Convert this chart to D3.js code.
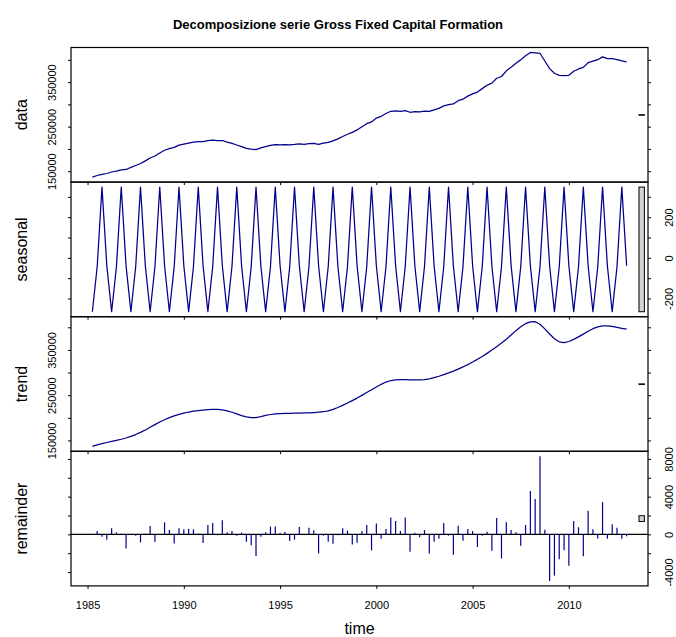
<!DOCTYPE html>
<html>
<head>
<meta charset="utf-8">
<script src="https://cdn.jsdelivr.net/npm/d3@7"></script>
<style>
  body { margin: 0; background: #ffffff; }
  svg text { font-family: "Liberation Sans", Arial, Helvetica, sans-serif; fill: #000; }
</style>
</head>
<body>
<svg id="chart" width="676" height="637"></svg>
<script>
// Quarterly series, first observation 1985 Q2, last 2013 Q1
const startYear = 1985.25;
const frequency = 4;

const data = [
  136685, 140316, 142898, 144791, 148175, 150366, 152998, 153871,
  158505, 162816, 167298, 173221, 179625, 184136, 190978, 197041,
  200595, 203396, 208588, 210891, 213105, 215086, 216448, 216241,
  218825, 219766, 218748, 218851, 215245, 212611, 208808, 205141,
  201055, 199286, 198538, 202311, 205245, 208076, 209668, 209301,
  209585, 209146, 209978, 211141, 210405, 211666, 212378, 210241,
  212995, 214676, 218058, 222561, 227775, 232946, 237278, 242671,
  249690, 256746, 260648, 269201, 273275, 279526, 284528, 285381,
  284490, 285936, 282298, 283741, 283215, 285016, 284528, 287781,
  291075, 296566, 299408, 300991, 308255, 311686, 318518, 323516,
  327585, 335416, 343028, 347821, 358675, 362596, 375428, 383421,
  392545, 399946, 409338, 416561, 415895, 414836, 397448, 380221,
  369955, 365316, 364848, 365241, 374355, 379616, 383028, 393661,
  397185, 400306, 406768, 402901, 402895, 400666, 397688, 395561
];

const seasonal = [
  -265, -44, 348, -39, -265, -44, 348, -39, -265, -44, 348, -39, -265, -44, 348, -39,
  -265, -44, 348, -39, -265, -44, 348, -39, -265, -44, 348, -39, -265, -44, 348, -39,
  -265, -44, 348, -39, -265, -44, 348, -39, -265, -44, 348, -39, -265, -44, 348, -39,
  -265, -44, 348, -39, -265, -44, 348, -39, -265, -44, 348, -39, -265, -44, 348, -39,
  -265, -44, 348, -39, -265, -44, 348, -39, -265, -44, 348, -39, -265, -44, 348, -39,
  -265, -44, 348, -39, -265, -44, 348, -39, -265, -44, 348, -39, -265, -44, 348, -39,
  -265, -44, 348, -39, -265, -44, 348, -39, -265, -44, 348, -39, -265, -44, 348, -39
];

const trend = [
  137000, 140000, 142800, 145400, 147800, 150200, 152600, 155400,
  158800, 163000, 167800, 173200, 179000, 185000, 190600, 195800,
  200400, 204400, 207600, 210400, 212800, 214600, 216000, 217200,
  218100, 218600, 218500, 217400, 215300, 212300, 208600, 205000,
  202100, 200500, 200500, 202600, 205300, 207300, 208500, 209200,
  209600, 209900, 210200, 210400, 210700, 211000, 211600, 212300,
  213400, 215500, 218700, 222700, 227400, 232600, 238000, 243600,
  249600, 255800, 262000, 268100, 274000, 279000, 282400, 284000,
  284400, 284200, 283800, 283600, 283800, 284600, 286200, 288600,
  291800, 295400, 299200, 303200, 307600, 312400, 317600, 323200,
  329200, 335600, 342400, 349600, 357200, 365200, 373800, 383000,
  392600, 401200, 408000, 412000, 412400, 406600, 396600, 385200,
  374600, 368000, 366200, 368600, 373200, 378900, 385000, 391200,
  396900, 400800, 403000, 403400, 402100, 400000, 397800, 395800
];

const remainder = [
   -50,   360,  -250,  -570,   640,   210,    50, -1490,
   -30,  -140,  -850,    60,   890,  -820,    30,  1280,
   460,  -960,   640,   530,   570,   530,   100,  -920,
   990,  1210,  -100,  1490,   210,   355,  -140,   180,
  -780, -1170, -2310,  -250,   210,   820,   820,   140,
   250,  -710,  -570,   780,   -30,   710,   430, -2020,
  -140,  -780,  -990,  -100,   640,   390, -1070,  -890,
   355,   990, -1700,  1140,  -460,   570,  1780,  1420,
   355,  1780, -1850,   180,  -320,   460, -2020,  -780,
  -460,  1210,  -140, -2170,   920,  -670,   570,   355,
 -1350,  -140,   280, -1740,  1740, -2560,  1280,   460,
   210, -1210,   990,  4600,  3760,  8280,   500, -4940,
 -4380, -2640, -1700, -3320,  1420,   760, -2320,  2500,
   550,  -450,  3420,  -460,  1060,   710,  -460,  -200
];

const chartTitle = "Decomposizione serie Gross Fixed Capital Formation";
const panelLabels = ["data", "seasonal", "trend", "remainder"];
const timeLabel = "time";
const yearTicks = [1985, 1990, 1995, 2000, 2005, 2010];

const levelTicks = [150000, 200000, 250000, 300000, 350000, 400000];
const levelTickLabels = [150000, 250000, 350000];
const seasonalTicks = [-200, -100, 0, 100, 200, 300];
const seasonalTickLabels = [-200, 0, 200];
const remainderTicks = [-4000, -2000, 0, 2000, 4000, 6000, 8000];
const remainderTickLabels = [-4000, 0, 4000, 8000];

// ---- layout ----
const plotLeft = 71, plotRight = 648, plotTop = 47.5, panelH = 134.6;
const lineColor = "#00008B";
const rangeFill = "#d3d3d3";
const tickLen = 3;

const svg = d3.select("#chart");
const n = data.length;
const time = d3.range(n).map(i => startYear + i / frequency);

// 4% expansion of a range, as in a standard time-series plot
const padRange = ([lo, hi]) => { const d = (hi - lo) * 0.04; return [lo - d, hi + d]; };

const x = d3.scaleLinear().domain(padRange([time[0], time[n - 1]])).range([plotLeft, plotRight]);

const panels = [
  { label: panelLabels[0], values: data,      ticks: levelTicks,     labels: levelTickLabels,     labelSide: "left",  kind: "line" },
  { label: panelLabels[1], values: seasonal,  ticks: seasonalTicks,  labels: seasonalTickLabels,  labelSide: "right", kind: "line" },
  { label: panelLabels[2], values: trend,     ticks: levelTicks,     labels: levelTickLabels,     labelSide: "left",  kind: "line" },
  { label: panelLabels[3], values: remainder, ticks: remainderTicks, labels: remainderTickLabels, labelSide: "right", kind: "bars" }
];

// height of the grey range bars: the smallest range among the components
const smallestRange = d3.min(panels, p => d3.max(p.values) - d3.min(p.values));
const xDom = x.domain();
const barDx = (xDom[1] - xDom[0]) / 64;

panels.forEach((p, k) => {
  const top = plotTop + k * panelH;
  const bottom = top + panelH;
  const ext = d3.extent(p.values);
  const y = d3.scaleLinear().domain(padRange(ext)).range([bottom, top]);
  const g = svg.append("g").attr("class", "panel panel-" + p.label);

  // series
  if (p.kind === "line") {
    g.append("path")
      .datum(p.values)
      .attr("fill", "none")
      .attr("stroke", lineColor)
      .attr("stroke-width", 1.25)
      .attr("stroke-linejoin", "round")
      .attr("d", d3.line().x((d, i) => x(time[i])).y(d => y(d)));
  } else {
    g.append("line")
      .attr("x1", plotLeft).attr("x2", plotRight)
      .attr("y1", y(0)).attr("y2", y(0))
      .attr("stroke", "#000").attr("stroke-width", 1.2);
    g.selectAll("line.bar")
      .data(p.values)
      .join("line")
      .attr("class", "bar")
      .attr("x1", (d, i) => x(time[i]))
      .attr("x2", (d, i) => x(time[i]))
      .attr("y1", y(0))
      .attr("y2", d => y(d))
      .attr("stroke", lineColor)
      .attr("stroke-width", 1.2);
  }

  // range bar at the right edge
  const mid = (ext[0] + ext[1]) / 2;
  g.append("rect")
    .attr("x", x(xDom[1] - barDx))
    .attr("width", x(xDom[1] - 0.4 * barDx) - x(xDom[1] - barDx))
    .attr("y", y(mid + smallestRange / 2))
    .attr("height", Math.max(0.6, y(mid - smallestRange / 2) - y(mid + smallestRange / 2)))
    .attr("fill", rangeFill)
    .attr("stroke", "#000")
    .attr("stroke-width", 1);

  // box
  g.append("rect")
    .attr("x", plotLeft).attr("y", top)
    .attr("width", plotRight - plotLeft).attr("height", panelH)
    .attr("fill", "none").attr("stroke", "#000").attr("stroke-width", 1.2);

  const fmt = v => (p.labels.includes(v) ? String(v) : "");

  // left and right axes (ticks on both, labels on one side)
  const leftAxis = d3.axisLeft(y).tickValues(p.ticks).tickSize(tickLen).tickSizeOuter(0)
    .tickFormat(p.labelSide === "left" ? fmt : () => "");
  const rightAxis = d3.axisRight(y).tickValues(p.ticks).tickSize(tickLen).tickSizeOuter(0)
    .tickFormat(p.labelSide === "right" ? fmt : () => "");

  const gl = g.append("g").attr("transform", `translate(${plotLeft},0)`).call(leftAxis);
  const gr = g.append("g").attr("transform", `translate(${plotRight},0)`).call(rightAxis);
  [gl, gr].forEach(a => {
    a.select(".domain").remove();
    a.attr("font-size", null).attr("font-family", null);
    a.selectAll(".tick line").attr("stroke", "#000");
  });
  gl.selectAll(".tick text")
    .attr("x", null).attr("dy", "0.35em")
    .attr("transform", "translate(-19.3,0) rotate(-90)")
    .attr("text-anchor", "middle")
    .style("font-size", "11px");
  gr.selectAll(".tick text")
    .attr("x", null).attr("dy", "0.35em")
    .attr("transform", "translate(21.5,0) rotate(-90)")
    .attr("text-anchor", "middle")
    .style("font-size", "11px");

  // bottom axis of every panel; year labels only under the last one
  const last = k === panels.length - 1;
  const bottomAxis = d3.axisBottom(x).tickValues(yearTicks).tickSize(tickLen).tickSizeOuter(0)
    .tickPadding(12).tickFormat(last ? d3.format("d") : () => "");
  const gb = g.append("g").attr("transform", `translate(0,${bottom})`).call(bottomAxis);
  gb.select(".domain").remove();
  gb.attr("font-size", null).attr("font-family", null);
  gb.selectAll(".tick line").attr("stroke", "#000");
  gb.selectAll(".tick text").style("font-size", "11px");

  // panel label
  svg.append("text")
    .attr("transform", `translate(21,${(top + bottom) / 2}) rotate(-90)`)
    .attr("dy", "0.35em")
    .attr("text-anchor", "middle")
    .style("font-size", "16px")
    .text(p.label);
});

// x axis title
svg.append("text")
  .attr("x", (plotLeft + plotRight) / 2)
  .attr("y", 633.5)
  .attr("text-anchor", "middle")
  .style("font-size", "16px")
  .text(timeLabel);

// main title
svg.append("text")
  .attr("x", 338)
  .attr("y", 28.5)
  .attr("text-anchor", "middle")
  .style("font-size", "13px")
  .style("font-weight", "bold")
  .text(chartTitle);
</script>
</body>
</html>
